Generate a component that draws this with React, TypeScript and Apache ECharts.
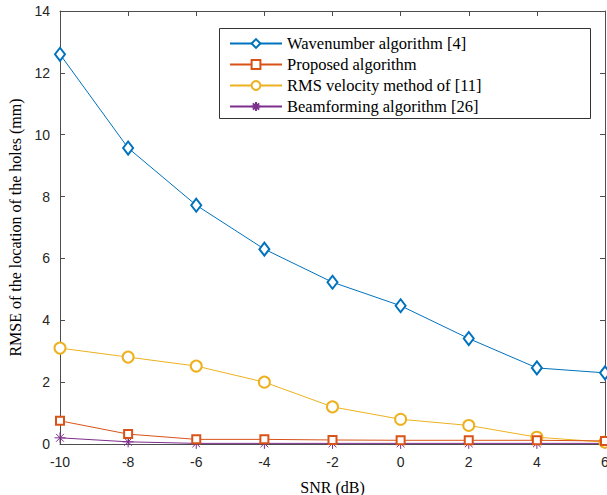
import React, { useEffect, useRef } from "react";
import * as echarts from "echarts";

const snr = [-10, -8, -6, -4, -2, 0, 2, 4, 6];
const wavenumber = [12.6, 9.57, 7.72, 6.3, 5.23, 4.47, 3.41, 2.46, 2.3];
const proposed = [0.75, 0.32, 0.15, 0.15, 0.13, 0.12, 0.12, 0.12, 0.1];
const rmsVelocity = [3.1, 2.81, 2.52, 2.0, 1.2, 0.8, 0.6, 0.22, 0.06];
const beamforming = [0.2, 0.07, 0.02, 0.02, 0.02, 0.02, 0.02, 0.02, 0.02];

const seriesNames = [
  "Wavenumber algorithm [4]",
  "Proposed algorithm",
  "RMS velocity method of [11]",
  "Beamforming algorithm [26]",
];
const colors = ["#0072BD", "#D95319", "#EDB120", "#7E2F8E"];

const asterisk =
  "path://M5,0 L5,10 M0,5 L10,5 M1.46,1.46 L8.54,8.54 M1.46,8.54 L8.54,1.46";

const AXIS_COLOR = "#4d4d4d";

export default function App() {
  const ref = useRef<HTMLDivElement>(null);
  useEffect(() => {
    if (!ref.current) return;
    document.body.style.margin = "0";
    const chart = echarts.init(ref.current, null, { renderer: "svg" });
    const pair = (vals: number[]) => snr.map((x, i) => [x, vals[i]]);
    const baseAxisLine = { show: true, onZero: false, lineStyle: { color: AXIS_COLOR, width: 1 } };
    const tick = { show: true, inside: true, length: 5, lineStyle: { color: AXIS_COLOR } };
    const mk = (i: number, vals: number[], symbol: string, size: number | number[]) => ({
      name: seriesNames[i],
      type: "line",
      data: pair(vals),
      symbol,
      symbolSize: size,
      showAllSymbol: true,
      lineStyle: { color: colors[i], width: 1 },
      itemStyle: {
        color: colors[i],
        borderColor: colors[i],
        borderWidth: 1,
      },
      emphasis: { disabled: true },
      z: 10 - i,
    });
    chart.setOption({
      animation: false,
      backgroundColor: "#fff",
      grid: {
        left: 60,
        right: 2,
        top: 11,
        bottom: 51,
        containLabel: false,
        outerBoundsMode: "none",
      },
      xAxis: [
        {
          type: "value",
          min: -10,
          max: 6,
          interval: 2,
          position: "bottom",
          name: "SNR (dB)",
          nameLocation: "middle",
          nameGap: 35,
          nameTextStyle: { fontFamily: "Liberation Serif", fontSize: 16, color: "#000" },
          axisLine: baseAxisLine,
          axisTick: tick,
          axisLabel: { fontFamily: "Liberation Sans", fontSize: 14, color: "#262626", margin: 11 },
          splitLine: { show: false },
        },
        {
          type: "value",
          min: -10,
          max: 6,
          interval: 2,
          position: "top",
          axisLine: baseAxisLine,
          axisTick: tick,
          axisLabel: { show: false },
          splitLine: { show: false },
        },
      ],
      yAxis: [
        {
          type: "value",
          min: 0,
          max: 14,
          interval: 2,
          position: "left",
          name: "RMSE of the location of the holes (mm)",
          nameLocation: "middle",
          nameGap: 34,
          nameTextStyle: { fontFamily: "Liberation Serif", fontSize: 16, color: "#000" },
          axisLine: baseAxisLine,
          axisTick: tick,
          axisLabel: { fontFamily: "Liberation Sans", fontSize: 14, color: "#262626", margin: 10 },
          splitLine: { show: false },
        },
        {
          type: "value",
          min: 0,
          max: 14,
          interval: 2,
          position: "right",
          axisLine: baseAxisLine,
          axisTick: tick,
          axisLabel: { show: false },
          splitLine: { show: false },
        },
      ],
      legend: {
        orient: "vertical",
        left: 229,
        top: 35,
        itemWidth: 52,
        itemHeight: 11,
        itemGap: 4,
        padding: 0,
        textStyle: { fontFamily: "Liberation Serif", fontSize: 16.5, color: "#000", padding: [0, 0, 0, 0] },
        data: seriesNames,
      },
      graphic: [
        {
          type: "rect",
          shape: { x: 219.5, y: 28.5, width: 371, height: 90 },
          style: { fill: "#fff", stroke: "#333", lineWidth: 1 },
          z: 0,
          zlevel: 0,
          silent: true,
        },
      ],
      series: [
        mk(0, wavenumber, "emptyDiamond", [10, 13]),
        mk(1, proposed, "emptyRect", 8),
        mk(2, rmsVelocity, "emptyCircle", 11),
        mk(3, beamforming, asterisk, 11),
      ],
    });
    return () => chart.dispose();
  }, []);
  return <div ref={ref} style={{ width: 607, height: 495 }} />;
}
